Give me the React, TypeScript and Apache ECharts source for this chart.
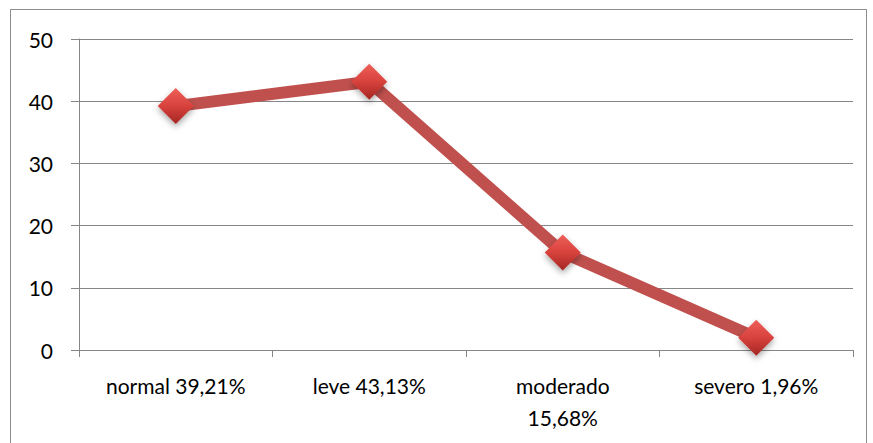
import React, { useEffect, useRef } from "react";
import * as echarts from "echarts";

const categories = ["normal 39,21%", "leve 43,13%", "moderado\n15,68%", "severo 1,96%"];
const values = [39.21, 43.13, 15.68, 1.96];
const yMin = 0;
const yMax = 50;
const yStep = 10;

export default function App() {
  const ref = useRef<HTMLDivElement>(null);
  useEffect(() => {
    if (!ref.current) return;
    const chart = echarts.init(ref.current, undefined, { renderer: "svg" });
    const font = "Lato, 'Open Sans', sans-serif";
    chart.setOption({
      animation: false,
      backgroundColor: "#ffffff",
      graphic: [
        {
          type: "rect",
          shape: { x: 10.5, y: 9.5, width: 856, height: 445 },
          style: { fill: "none", stroke: "#8c8c8c", lineWidth: 1 },
          silent: true,
        },
      ],
      grid: { left: 79, right: 20, top: 39, bottom: 93 },
      xAxis: {
        type: "category",
        data: categories,
        boundaryGap: true,
        axisLine: { show: true, lineStyle: { color: "#868686", width: 1 } },
        axisTick: { show: true, length: 7, lineStyle: { color: "#868686" } },
        axisLabel: {
          color: "#000",
          fontSize: 21,
          fontFamily: font,
          margin: 19,
          lineHeight: 32,
          interval: 0,
        },
        splitLine: { show: false },
      },
      yAxis: {
        type: "value",
        min: yMin,
        max: yMax,
        interval: yStep,
        axisLine: { show: true, lineStyle: { color: "#868686", width: 1 } },
        axisTick: { show: true, length: 8, lineStyle: { color: "#868686" } },
        axisLabel: { color: "#000", fontSize: 21, fontFamily: font, margin: 26 },
        splitLine: { show: true, lineStyle: { color: "#868686", width: 1 } },
      },
      series: [
        {
          type: "line",
          data: values,
          lineStyle: { color: "#C0504D", width: 12 },
          symbol: "diamond",
          symbolSize: 36,
          itemStyle: {
            color: new echarts.graphic.LinearGradient(0, 0, 0, 1, [
              { offset: 0, color: "#EE5F59" },
              { offset: 0.5, color: "#D8423D" },
              { offset: 1, color: "#A32622" },
            ]),
            borderWidth: 0,
            shadowColor: "rgba(0,0,0,0.35)",
            shadowBlur: 6,
            shadowOffsetY: 3,
          },
          label: { show: false },
        },
      ],
    });
    return () => chart.dispose();
  }, []);
  return (
    <div
      ref={ref}
      style={{ position: "fixed", left: 0, top: 0, width: 873, height: 443 }}
    />
  );
}
